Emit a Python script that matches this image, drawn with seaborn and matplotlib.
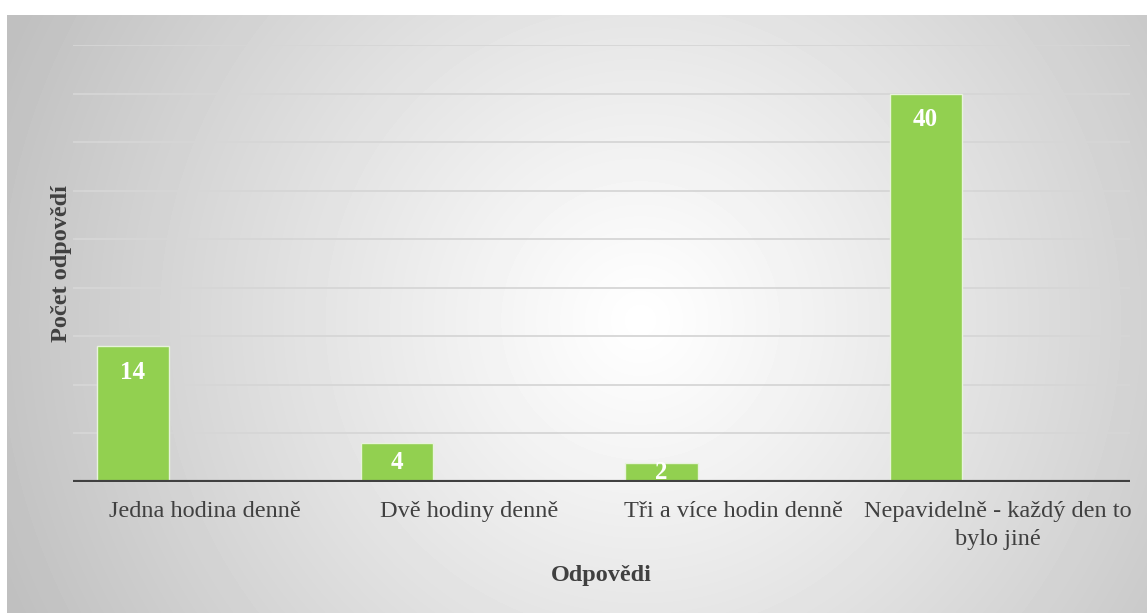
import numpy as np
import pandas as pd
import seaborn as sns
import matplotlib.pyplot as plt

sns.set_theme(style='white')
plt.rcParams['font.family'] = ['Liberation Serif', 'DejaVu Serif']

# data
categories = ['Jedna hodina denně', 'Dvě hodiny denně', 'Tři a více hodin denně',
              'Nepavidelně - každý den to\nbylo jiné']
counts = [14, 4, 2, 40]
# the original Excel chart has two more (empty) series, so bars sit left in each slot
series = ['Řada 1', 'Řada 2', 'Řada 3']
empty = [np.nan, np.nan, np.nan, np.nan]

df = pd.DataFrame({
    'odpoved': categories * 3,
    'pocet': counts + empty + empty,
    'rada': [series[0]] * 4 + [series[1]] * 4 + [series[2]] * 4,
})

W, H = 1147, 613
fig = plt.figure(figsize=(W / 100, H / 100), dpi=100)
fig.patch.set_facecolor('white')

# radial gradient background of the chart area
bg = fig.add_axes([7 / W, 0, (W - 7) / W, (H - 15) / H])
yy, xx = np.mgrid[15:H, 7:W]
d = np.sqrt((xx - 640.0) ** 2 + (yy - 320.0) ** 2)
shade = 1 - 0.25 * np.clip(d / 690.0, 0, 1) ** 1.1
bg.imshow(shade, cmap='gray', vmin=0, vmax=1, aspect='auto', interpolation='bilinear')
bg.set_axis_off()

ax = fig.add_axes([73 / W, (H - 482) / H, (1130 - 73) / W, (482 - 45) / H])
ax.set_facecolor('none')

sns.barplot(data=df, x='odpoved', y='pocet', hue='rada', hue_order=series,
            order=categories, palette=['#92D050'] * 3, saturation=1, width=0.82,
            edgecolor='#e8f3dc', linewidth=1, legend=False, ax=ax, zorder=3)

ax.set_ylim(0, 45)
ax.set_xlim(-0.5, 3.5)
ax.set_yticks(range(5, 46, 5))
ax.set_yticklabels([])
ax.grid(axis='y', color='#d6d6d6', linewidth=1.3, zorder=1)
ax.tick_params(axis='both', length=0)
ax.tick_params(axis='x', pad=14, labelsize=17.5, labelcolor='#404040')
for t in ax.get_xticklabels():
    t.set_horizontalalignment('center')
    t.set_multialignment('center')
    t.set_linespacing(1.4)
for s in ax.spines.values():
    s.set_visible(False)
ax.axhline(0, color='#404040', linewidth=3, zorder=6)

ax.set_xlabel('Odpovědi', fontsize=17.5, fontweight='bold', color='#404040')
ax.xaxis.set_label_coords(0.5, -0.19)
ax.set_ylabel('Počet odpovědí', fontsize=17.5, fontweight='bold', color='#404040')
ax.yaxis.set_label_coords(-0.001, 0.5)

# data labels inside bar ends
px_per_unit = ax.transData.transform((0, 1))[1] - ax.transData.transform((0, 0))[1]
for bar, v in zip(ax.containers[0], counts):
    off = min(26, v * px_per_unit / 2)
    ax.annotate(str(v), (bar.get_x() + bar.get_width() / 2, v),
                xytext=(0, -off), textcoords='offset pixels',
                ha='center', va='center', color='white',
                fontsize=18, fontweight='bold', zorder=5)

fig.savefig('out.png', dpi=100)
